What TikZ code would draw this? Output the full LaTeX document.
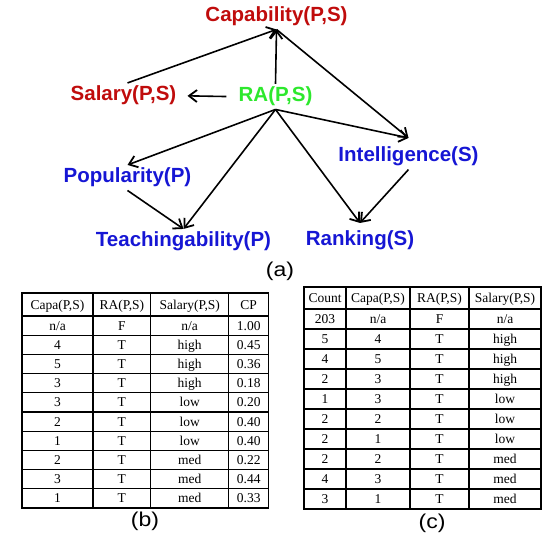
\documentclass[tikz,border=0pt]{standalone}
\usepackage{fontspec}
\setmainfont{Liberation Serif}
\newfontfamily\graphfont{Liberation Sans}
\usepackage{graphicx}
\usetikzlibrary{arrows.meta}

\definecolor{capred}{RGB}{192,12,12}
\definecolor{ragreen}{RGB}{45,232,45}
\definecolor{nodeblue}{RGB}{22,22,212}
\newcommand{\NA}{n/a}

\begin{document}
\begin{tikzpicture}[x=1pt,y=-1pt,
  gnode/.style={font=\graphfont\bfseries\fontsize{20.5}{24}\selectfont, inner sep=3pt, anchor=base},
  edge/.style={line width=1.6pt, -{Straight Barb[length=8pt,width=12pt,line width=1.8pt]}},
  cell/.style={font=\fontsize{13.5}{16}\selectfont, inner sep=0pt, text height=11pt, text depth=2pt, anchor=center},
  grid/.style={line width=1.1pt},
  caption/.style={font=\graphfont\fontsize{20}{23}\selectfont, anchor=center}]
\useasboundingbox (0,0) rectangle (559,545);

% ---------- (a) graph ----------
\node[gnode, text=capred]   (cap)   at (276.5,22)  {Capability(P,S)};
\node[gnode, text=capred]   (sal)   at (123.5,101) {Salary(P,S)};
\node[gnode, text=ragreen]  (ra)    at (275.5,102) {RA(P,S)};
\node[gnode, text=nodeblue] (pop)   at (127.5,183) {Popularity(P)};
\node[gnode, text=nodeblue] (intel) at (408.5,162) {Intelligence(S)};
\node[gnode, text=nodeblue] (teach) at (183.5,247) {Teachingability(P)};
\node[gnode, text=nodeblue] (rank)  at (360,246)   {Ranking(S)};

\draw[edge] ([xshift=4pt]sal.north) -- (cap.south);
\draw[edge] (ra.north) -- (cap.south);
\draw[edge, shorten <=9pt, shorten >=8pt] (ra.west) -- (sal.east);
\draw[edge] (cap.south) -- ([yshift=6pt]intel.north);
\draw[edge] (ra.south) -- ([yshift=6pt]intel.north);
\draw[edge] (ra.south) -- (pop.north);
\draw[edge] (ra.south) -- (teach.north);
\draw[edge] (pop.south) -- (teach.north);
\draw[edge] (ra.south) -- ([yshift=5pt]rank.north);
\draw[edge] (intel.south) -- ([yshift=5pt]rank.north);

\node[caption] (capa) at (280,271) {\scalebox{1.15}[1]{(a)}};

% ---------- (b) table ----------
\draw[grid] (22,293) rectangle (268.7,508);
\foreach \x in {93,150.7,228.7} \draw[grid] (\x,293) -- (\x,508);
\foreach \i in {0,...,9} \draw[grid] (22,{316+19.2*\i}) -- (268.7,{316+19.2*\i});

\node[cell] (b-0-1) at (57.5,304.5)  {Capa(P,S)};
\node[cell] (b-0-2) at (121.85,304.5) {RA(P,S)};
\node[cell] (b-0-3) at (189.7,304.5) {Salary(P,S)};
\node[cell] (b-0-4) at (248.7,304.5) {CP};
\foreach \a/\b/\c/\d [count=\i] in {\NA/F/\NA/1.00, 4/T/high/0.45, 5/T/high/0.36, 3/T/high/0.18,
  3/T/low/0.20, 2/T/low/0.40, 1/T/low/0.40, 2/T/med/0.22, 3/T/med/0.44, 1/T/med/0.33} {
  \node[cell] (b-\i-1) at (57.5,{316+19.2*(\i-0.5)})   {\a};
  \node[cell] (b-\i-2) at (121.85,{316+19.2*(\i-0.5)}) {\b};
  \node[cell] (b-\i-3) at (189.7,{316+19.2*(\i-0.5)})  {\c};
  \node[cell] (b-\i-4) at (248.7,{316+19.2*(\i-0.5)})  {\d};
}
\node[caption] (capb) at (145,521) {\scalebox{1.15}[1]{(b)}};

% ---------- (c) table ----------
\draw[grid] (304,287) rectangle (541,509);
\foreach \x in {346,410,469} \draw[grid] (\x,287) -- (\x,509);
\foreach \i in {0,...,9} \draw[grid] (304,{309+20*\i}) -- (541,{309+20*\i});

\node[cell] (c-0-1) at (325,298)   {Count};
\node[cell] (c-0-2) at (378,298)   {Capa(P,S)};
\node[cell] (c-0-3) at (439.5,298) {RA(P,S)};
\node[cell] (c-0-4) at (505,298)   {Salary(P,S)};
\foreach \a/\b/\c/\d [count=\i] in {203/\NA/F/\NA, 5/4/T/high, 4/5/T/high, 2/3/T/high,
  1/3/T/low, 2/2/T/low, 2/1/T/low, 2/2/T/med, 4/3/T/med, 3/1/T/med} {
  \node[cell] (c-\i-1) at (325,{309+20*(\i-0.5)})   {\a};
  \node[cell] (c-\i-2) at (378,{309+20*(\i-0.5)})   {\b};
  \node[cell] (c-\i-3) at (439.5,{309+20*(\i-0.5)}) {\c};
  \node[cell] (c-\i-4) at (505,{309+20*(\i-0.5)})   {\d};
}
\node[caption] (capc) at (432,523) {\scalebox{1.15}[1]{(c)}};
\end{tikzpicture}
\end{document}
